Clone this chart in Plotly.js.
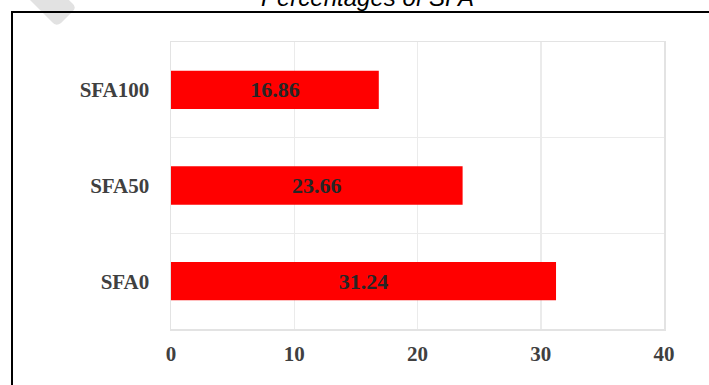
<!DOCTYPE html>
<html>
<head>
<meta charset="utf-8">
<script src="https://cdn.plot.ly/plotly-3.0.1.min.js"></script>
<style>
  html, body { margin: 0; padding: 0; background: #fff; }
  #chart { width: 709px; height: 385px; }
</style>
</head>
<body>
<div id="chart"></div>
<script>
// Share of SFA in each mix
const categories = ['SFA0', 'SFA50', 'SFA100'];
const sfaPercent = [31.24, 23.66, 16.86];
const xTicks = [0, 10, 20, 30, 40];
const chartTitle = 'Percentages of SFA';

// Plot-area geometry in pixels
const W = 709, H = 385;
const M = { l: 171, r: 45, t: 42, b: 56 };
const PW = W - M.l - M.r, PH = H - M.t - M.b;
const px = x => (x - M.l) / PW;          // pixel x -> paper x
const py = y => (H - M.b - y) / PH;      // pixel y -> paper y

const serifBold = { family: 'Liberation Serif, Times New Roman, serif', size: 21, color: '#404040', weight: 700 };

// Light grey decorative stroke at the top-left corner
const strokePts = [
  ['M', 10, -20], ['L', 52, 22], ['Q', 56, 27, 61, 23], ['L', 73, 11],
  ['Q', 77, 7, 72, 3], ['L', 48, -20]
];
const strokePath = strokePts.map(p => {
  const cmd = p[0];
  const coords = [];
  for (let i = 1; i < p.length; i += 2) coords.push(px(p[i]) + ',' + py(p[i + 1]));
  return cmd + ' ' + coords.join(' ');
}).join(' ') + ' Z';

const trace = {
  type: 'bar',
  orientation: 'h',
  y: categories,
  x: sfaPercent,
  marker: { color: '#ff0000', line: { width: 0 } },
  texttemplate: '%{x:.2f}',
  textposition: 'inside',
  insidetextanchor: 'middle',
  textangle: 0,
  constraintext: 'none',
  textfont: { family: 'Liberation Serif, Times New Roman, serif', size: 22, color: '#262626', weight: 700 },
  hoverinfo: 'none'
};

const layout = {
  width: W, height: H,
  margin: M,
  paper_bgcolor: '#ffffff',
  plot_bgcolor: '#ffffff',
  showlegend: false,
  bargap: 0.6,
  xaxis: {
    range: [0, 40],
    tickvals: xTicks,
    ticktext: xTicks.map(String),
    showgrid: true, gridcolor: '#ebebeb', gridwidth: 1.5,
    zeroline: false,
    showline: true, mirror: true, linecolor: '#e3e3e3', linewidth: 1.5,
    ticks: '', ticklabelstandoff: 5,
    tickfont: serifBold,
    fixedrange: true
  },
  yaxis: {
    type: 'category',
    categoryorder: 'array',
    categoryarray: categories,
    range: [-0.5, 2.5],
    tickson: 'boundaries',
    showgrid: true, gridcolor: '#ebebeb', gridwidth: 1.5,
    zeroline: false,
    showline: true, mirror: true, linecolor: '#e3e3e3', linewidth: 1.5,
    ticks: '', ticklabelstandoff: 16,
    tickfont: serifBold,
    fixedrange: true
  },
  annotations: [{
    xref: 'paper', yref: 'paper',
    x: px(367), y: py(-2),
    xanchor: 'center', yanchor: 'middle',
    showarrow: false,
    text: '<i>' + chartTitle + '</i>',
    font: { family: 'Liberation Sans, Arial, sans-serif', size: 24, color: '#000000' }
  }],
  shapes: [
    {
      type: 'path', xref: 'paper', yref: 'paper',
      path: strokePath,
      fillcolor: '#e2e2e2', line: { width: 0 },
      layer: 'below'
    },
    {
      type: 'rect', xref: 'paper', yref: 'paper',
      x0: px(12), x1: px(730), y0: py(420), y1: py(12),
      line: { color: '#000000', width: 2 },
      fillcolor: 'rgba(0,0,0,0)',
      layer: 'above'
    }
  ]
};

Plotly.newPlot('chart', [trace], layout, { displayModeBar: false, staticPlot: true });
</script>
</body>
</html>
